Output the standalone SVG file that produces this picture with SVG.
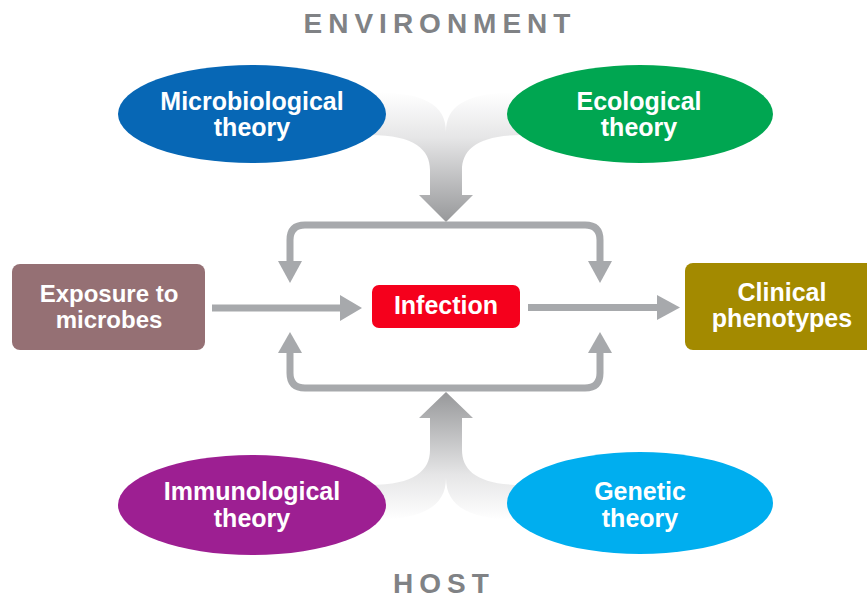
<svg xmlns="http://www.w3.org/2000/svg" width="867" height="598" viewBox="0 0 867 598">
  <defs>
    <linearGradient id="gTop" gradientUnits="userSpaceOnUse" x1="0" y1="92" x2="0" y2="222">
      <stop offset="0" stop-color="#ffffff"/>
      <stop offset="0.35" stop-color="#e6e6e7"/>
      <stop offset="1" stop-color="#97989a"/>
    </linearGradient>
    <linearGradient id="gBot" gradientUnits="userSpaceOnUse" x1="0" y1="520" x2="0" y2="392">
      <stop offset="0" stop-color="#ffffff"/>
      <stop offset="0.35" stop-color="#e6e6e7"/>
      <stop offset="1" stop-color="#97989a"/>
    </linearGradient>
  </defs>
  <style>
    .lbl { font-family: "Liberation Sans", Arial, sans-serif; font-weight: bold; font-size: 25px; fill: #ffffff; text-anchor: middle; }
    .sm { font-size: 24px; }
    .head { font-family: "Liberation Sans", Arial, sans-serif; font-weight: bold; font-size: 28px; fill: #808285; text-anchor: middle; letter-spacing: 6px; }
    .line { fill: none; stroke: #a7a9ac; stroke-width: 7; }
    .ah { fill: #a7a9ac; }
  </style>

  <g id="connectors">
    <path id="env-funnel" fill="url(#gTop)" d="M 370 92 C 425 92 446 105 446 132 C 446 105 467 92 522 92 L 522 135 C 477 135 462 150 462 170 L 462 195 L 473 195 L 446 222 L 419 195 L 430 195 L 430 170 C 430 150 415 135 370 135 Z"/>
    <path id="host-funnel" fill="url(#gBot)" d="M 370 520 C 425 520 446 505 446 478 C 446 505 467 520 522 520 L 522 485 C 477 485 462 470 462 450 L 462 418 L 473 418 L 446 392 L 419 418 L 430 418 L 430 450 C 430 470 415 485 370 485 Z"/>
    <path class="line" d="M 290 262 L 290 240 Q 290 225 305 225 L 585 225 Q 600 225 600 240 L 600 262"/>
    <polygon class="ah" points="278,261 302,261 290,283"/>
    <polygon class="ah" points="588,261 612,261 600,283"/>
    <path class="line" d="M 290 353 L 290 373 Q 290 388 305 388 L 585 388 Q 600 388 600 373 L 600 353"/>
    <polygon class="ah" points="278,353 302,353 290,332"/>
    <polygon class="ah" points="588,353 612,353 600,332"/>
    <line class="line" x1="212" y1="308" x2="342" y2="308" stroke-width="8"/>
    <polygon class="ah" points="340,295 362,308 340,321"/>
    <line class="line" x1="528" y1="307.5" x2="660" y2="307.5" stroke-width="8"/>
    <polygon class="ah" points="657,295 680,307.5 657,320"/>
  </g>

  <text class="head" x="440" y="33">ENVIRONMENT</text>
  <text class="head" x="444" y="593">HOST</text>

  <g id="microbiological">
    <ellipse cx="252" cy="114" rx="134" ry="49" fill="#0767b5"/>
    <text class="lbl" x="252" y="110">Microbiological</text>
    <text class="lbl" x="252" y="136">theory</text>
  </g>
  <g id="ecological">
    <ellipse cx="640" cy="114" rx="133" ry="49" fill="#00a651"/>
    <text class="lbl" x="639" y="110">Ecological</text>
    <text class="lbl" x="639" y="136">theory</text>
  </g>
  <g id="immunological">
    <ellipse cx="252" cy="505" rx="134" ry="50" fill="#9d1f92"/>
    <text class="lbl" x="252" y="500">Immunological</text>
    <text class="lbl" x="252" y="527">theory</text>
  </g>
  <g id="genetic">
    <ellipse cx="640" cy="503" rx="133" ry="51" fill="#00aeef"/>
    <text class="lbl" x="640" y="500">Genetic</text>
    <text class="lbl" x="640" y="527">theory</text>
  </g>
  <g id="exposure">
    <rect x="12" y="264" width="193" height="86" rx="8" fill="#957074"/>
    <text class="lbl sm" x="109" y="302">Exposure to</text>
    <text class="lbl sm" x="109" y="328">microbes</text>
  </g>
  <g id="infection">
    <rect x="372" y="285" width="148" height="43" rx="7" fill="#f5001c"/>
    <text class="lbl" x="446" y="314">Infection</text>
  </g>
  <g id="clinical">
    <rect x="685" y="263" width="192" height="87" rx="8" fill="#a38a00"/>
    <text class="lbl" x="782" y="301">Clinical</text>
    <text class="lbl" x="782" y="327">phenotypes</text>
  </g>
</svg>
